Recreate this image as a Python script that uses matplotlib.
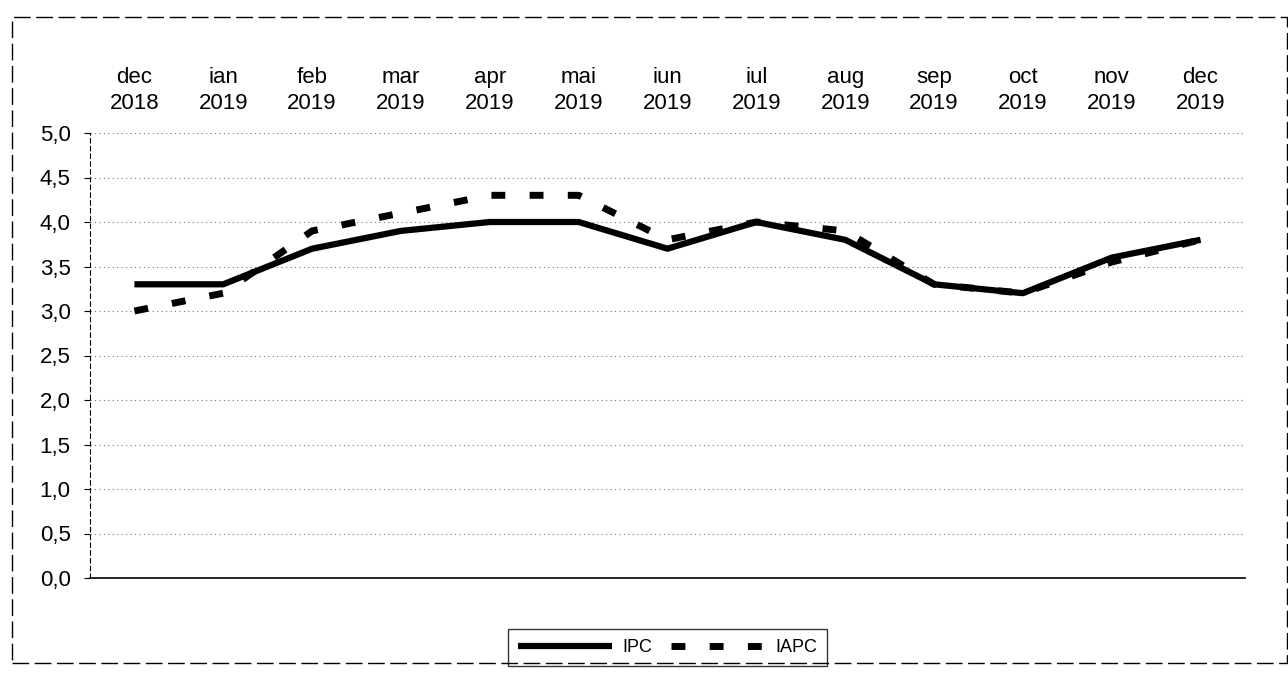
import matplotlib.pyplot as plt
from matplotlib.patches import Rectangle
from matplotlib.ticker import FuncFormatter

plt.rcParams["font.family"] = ["Liberation Sans", "DejaVu Sans"]

# date lunare
months = ["dec\n2018", "ian\n2019", "feb\n2019", "mar\n2019", "apr\n2019", "mai\n2019",
          "iun\n2019", "iul\n2019", "aug\n2019", "sep\n2019", "oct\n2019", "nov\n2019",
          "dec\n2019"]
ipc = [3.3, 3.3, 3.7, 3.9, 4.0, 4.0, 3.7, 4.0, 3.8, 3.3, 3.2, 3.6, 3.8]
iapc = [3.0, 3.2, 3.9, 4.1, 4.3, 4.3, 3.8, 4.0, 3.9, 3.3, 3.2, 3.55, 3.8]
y_ticks = [0.0, 0.5, 1.0, 1.5, 2.0, 2.5, 3.0, 3.5, 4.0, 4.5, 5.0]

fig = plt.figure(figsize=(12.88, 6.77), dpi=100)
ax = fig.add_axes([90 / 1288, 1 - 578 / 677, 1155 / 1288, 445 / 677])

x = list(range(len(months)))
ax.plot(x, ipc, color="black", lw=4.5, solid_capstyle="butt", label="IPC")
ax.plot(x, iapc, color="black", lw=5, linestyle=(0, (2, 3.5)), label="IAPC")

ax.set_xlim(-0.5, len(months) - 0.5)
ax.set_ylim(0, 5)
ax.set_yticks(y_ticks)
ax.yaxis.set_major_formatter(FuncFormatter(lambda v, _: f"{v:.1f}".replace(".", ",")))
ax.set_xticks(x)
ax.set_xticklabels(months, linespacing=1.3)
ax.xaxis.tick_top()
ax.tick_params(axis="x", length=0, pad=14, labelsize=16)
ax.tick_params(axis="y", length=4, pad=10, labelsize=16)

ax.grid(axis="y", color="#777777", linestyle=(0, (1, 3)), lw=0.8)
for s in ["top", "right"]:
    ax.spines[s].set_visible(False)
ax.spines["left"].set_linestyle((0, (4, 3)))
ax.spines["left"].set_linewidth(0.8)
ax.spines["bottom"].set_linewidth(1.2)

leg = ax.legend(loc="upper center", bbox_to_anchor=(0.5, -0.095), ncol=2, fontsize=13,
                frameon=True, fancybox=False, edgecolor="black", handlelength=5.2,
                columnspacing=1.0, borderpad=0.55, handletextpad=0.6)
leg.get_frame().set_linewidth(1.0)

# cadru exterior
fig.patches.append(Rectangle((0.009, 0.02), 0.99, 0.955, transform=fig.transFigure,
                             fill=False, edgecolor="black", lw=1.0, linestyle=(0, (12, 4))))

fig.savefig("out.png", dpi=100)
